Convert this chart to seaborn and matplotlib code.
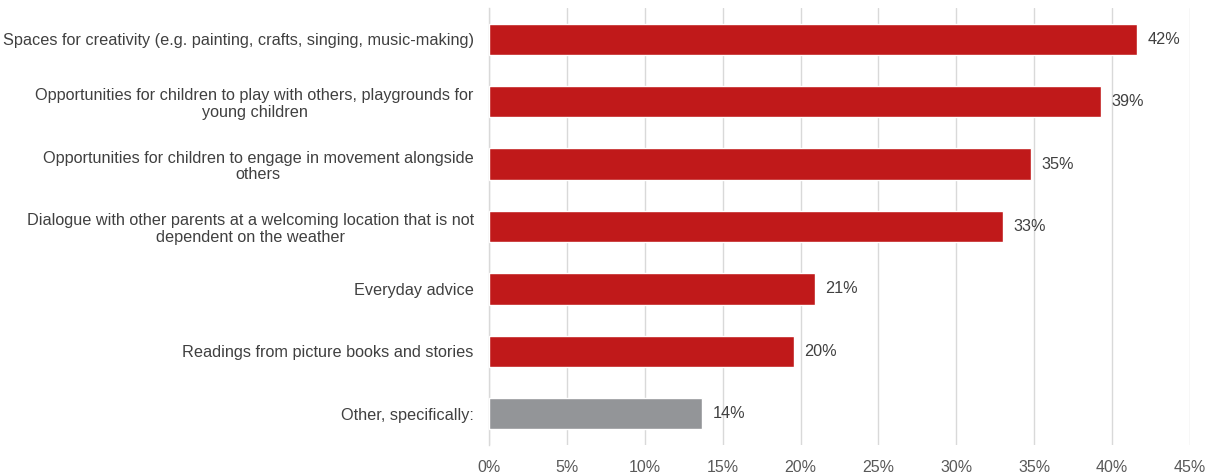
import matplotlib
matplotlib.use('Agg')
import matplotlib.pyplot as plt
import seaborn as sns
import pandas as pd

# dados
categorias = [
    'Spaces for creativity (e.g. painting, crafts, singing, music-making)',
    'Opportunities for children to play with others, playgrounds for\nyoung children',
    'Opportunities for children to engage in movement alongside\nothers',
    'Dialogue with other parents at a welcoming location that is not\ndependent on the weather',
    'Everyday advice',
    'Readings from picture books and stories',
    'Other, specifically:',
]
valores = [41.6, 39.3, 34.8, 33.0, 20.9, 19.6, 13.7]
rotulos = ['42%', '39%', '35%', '33%', '21%', '20%', '14%']
cores = ['#C0191A'] * 6 + ['#939598']

sns.set_style('white')
plt.rcParams['font.family'] = ['Liberation Sans', 'DejaVu Sans']

df = pd.DataFrame({'categoria': categorias, 'valor': valores})

fig = plt.figure(figsize=(12.1, 4.73), dpi=100)
ax = fig.add_axes([489 / 1210, 1 - 445 / 473, (1190 - 489) / 1210, (445 - 8) / 473])

sns.barplot(data=df, x='valor', y='categoria', hue='categoria', palette=cores,
            legend=False, width=0.5, saturation=1, ax=ax, zorder=3)

ax.set_xlim(0, 45)
ax.set_ylim(6.5, -0.5)
ax.set_xticks(range(0, 50, 5))
ax.set_xticklabels([f'{t}%' for t in range(0, 50, 5)])
ax.grid(axis='x', color='#D9D9D9', linewidth=1, zorder=0)
ax.set_xlabel('')
ax.set_ylabel('')

for lado in ['top', 'right', 'bottom']:
    ax.spines[lado].set_visible(False)
ax.spines['left'].set_color('#D9D9D9')
ax.spines['left'].set_linewidth(1)

ax.tick_params(axis='x', length=0, pad=11, labelsize=11.5, labelcolor='#595959')
ax.tick_params(axis='y', length=0, pad=11, labelsize=11.7, labelcolor='#404040')
for lab in ax.get_yticklabels():
    lab.set_multialignment('center')
    lab.set_linespacing(1.15)

# valores nas barras
for i, (v, r) in enumerate(zip(valores, rotulos)):
    ax.text(v + 0.65, i, r, va='center', ha='left', fontsize=11.7, color='#404040')

fig.savefig('out.png', dpi=100)
